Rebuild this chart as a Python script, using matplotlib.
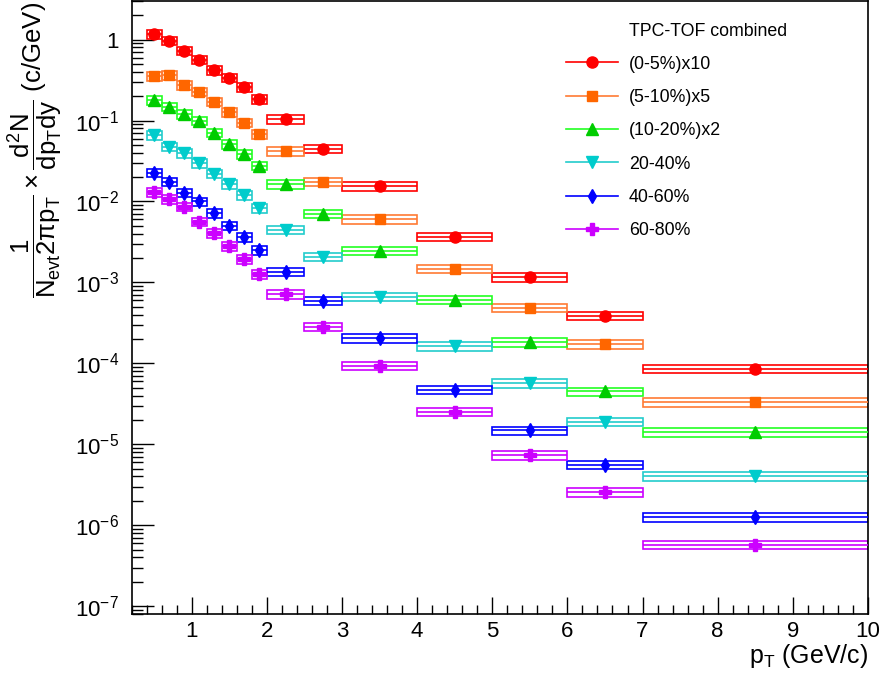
import math
import matplotlib
matplotlib.use("Agg")
import matplotlib.pyplot as plt
from matplotlib.lines import Line2D
from matplotlib.ticker import MultipleLocator, FixedLocator, FuncFormatter, NullFormatter

plt.rcParams['font.family'] = ['Liberation Sans', 'DejaVu Sans']
plt.rcParams['mathtext.fontset'] = 'custom'
plt.rcParams['mathtext.rm'] = 'Liberation Sans'
plt.rcParams['mathtext.it'] = 'Liberation Sans'
plt.rcParams['mathtext.sf'] = 'Liberation Sans'

# pT bin centres and half widths (GeV/c)
pt = [0.5, 0.7, 0.9, 1.1, 1.3, 1.5, 1.7, 1.9, 2.25, 2.75, 3.5, 4.5, 5.5, 6.5, 8.5]
pt_half = [0.1] * 8 + [0.25, 0.25, 0.5, 0.5, 0.5, 0.5, 1.5]

labels = ["(0-5%)x10", "(5-10%)x5", "(10-20%)x2", "20-40%", "40-60%", "60-80%"]

y_0_5 = [1.16, 0.97, 0.73, 0.56, 0.42, 0.34, 0.257, 0.184, 0.104, 0.0449, 0.0155,
         0.00368, 0.00116, 3.9e-4, 8.55e-5]
y_5_10 = [0.354, 0.361, 0.274, 0.227, 0.171, 0.126, 0.094, 0.0676, 0.042, 0.0176,
          0.006, 0.00147, 4.84e-4, 1.73e-4, 3.32e-5]
y_10_20 = [0.179, 0.148, 0.120, 0.0995, 0.0707, 0.0513, 0.0386, 0.0277, 0.0163,
           0.00701, 0.00245, 6.08e-4, 1.83e-4, 4.49e-5, 1.4e-5]
y_20_40 = [0.0662, 0.0475, 0.0394, 0.0296, 0.0219, 0.0163, 0.0120, 0.00824, 0.00445,
           0.00208, 6.68e-4, 1.63e-4, 5.7e-5, 1.91e-5, 4.0e-6]
y_40_60 = [0.0227, 0.0176, 0.0128, 0.0100, 0.0072, 0.0050, 0.00362, 0.0025, 0.00136,
           5.9e-4, 2.05e-4, 4.7e-5, 1.48e-5, 5.58e-6, 1.26e-6]
y_60_80 = [0.013, 0.01065, 0.00866, 0.0056, 0.00403, 0.0028, 0.00193, 0.00126, 7.15e-4,
           2.85e-4, 9.3e-5, 2.54e-5, 7.3e-6, 2.57e-6, 5.74e-7]

# relative systematic (box) and statistical errors
sys_rel = 0.12
stat_rel = 0.05

series = [y_0_5, y_5_10, y_10_20, y_20_40, y_40_60, y_60_80]
marker_colors = ['#ff0000', '#ff6600', '#00cc00', '#00cccc', '#0000ff', '#cc00ff']
line_colors = ['#ff0000', '#ff7a33', '#22ff22', '#22cccc', '#0000ff', '#cc00ff']
markers = ['o', 's', '^', 'v', 'd', 'P']
msizes = [8, 7.2, 8.5, 8.5, 7.5, 8.5]

fig = plt.figure(figsize=(8.86, 6.77), dpi=100)
ax = fig.add_axes([0.1486, 0.0931, 0.831, 0.9054])

for ys, mc, lc, m, ms in zip(series, marker_colors, line_colors, markers, msizes):
    lows = [v * (1 - sys_rel) for v in ys]
    heights = [v * 2 * sys_rel for v in ys]
    widths = [2 * h for h in pt_half]
    ax.bar(pt, heights, bottom=lows, width=widths, fill=False,
           edgecolor=lc, linewidth=1.2, zorder=2)
    ax.errorbar(pt, ys, xerr=pt_half, yerr=[v * stat_rel for v in ys],
                fmt='none', ecolor=lc, elinewidth=1.2, capsize=0, zorder=3)
    ax.plot(pt, ys, linestyle='none', marker=m, markersize=ms,
            color=mc, markeredgecolor=mc, zorder=4)

ax.set_xlim(0.2, 10)
ax.set_yscale('log')
ax.set_ylim(8e-8, 3)

ax.xaxis.set_major_locator(MultipleLocator(1))
ax.xaxis.set_minor_locator(MultipleLocator(0.2))
decades = list(range(-7, 1))
ax.yaxis.set_major_locator(FixedLocator([10.0 ** e for e in decades]))
minor = [k * 10.0 ** e for e in range(-8, 1) for k in range(2, 10)]
ax.yaxis.set_minor_locator(FixedLocator([v for v in minor if 8e-8 <= v <= 3]))
ax.yaxis.set_minor_formatter(NullFormatter())


def ylab(v, pos):
    e = int(round(math.log10(v)))
    if e == 0:
        return '1'
    return r'$\mathregular{10^{%d}}\hspace{0.3}$' % e


ax.yaxis.set_major_formatter(FuncFormatter(ylab))

ax.tick_params(axis='both', which='both', direction='in', top=False, right=False,
               labelsize=16, width=1)
ax.tick_params(axis='y', which='major', length=16, pad=9)
ax.tick_params(axis='y', which='minor', length=8)
ax.tick_params(axis='x', which='major', length=12, pad=5)
ax.tick_params(axis='x', which='minor', length=6.5)
for sp in ax.spines.values():
    sp.set_linewidth(1.2)

ax.set_xlabel(r'$\mathregular{p_{T}}$ (GeV/c)', fontsize=18, loc='right', labelpad=0)

fig.text(0.04, 0.997,
         r'$\mathregular{\dfrac{1}{N_{evt}2\pi p_{T}}\times\dfrac{d^{2}N}{dp_{T}dy}}$ (c/GeV)',
         rotation=90, ha='center', va='top', fontsize=18.5)

# legend
ax.text(0.6754, 0.951, 'TPC-TOF combined', transform=ax.transAxes,
        fontsize=12.8, ha='left', va='center')
handles = [Line2D([], [], color=lc, lw=1.2, marker=m, markersize=ms,
                  markerfacecolor=mc, markeredgecolor=mc)
           for mc, lc, m, ms in zip(marker_colors, line_colors, markers, msizes)]
ax.legend(handles, labels, loc='upper left', bbox_to_anchor=(0.59, 0.911),
          frameon=False, fontsize=12.8, borderpad=0, borderaxespad=0,
          handlelength=2.9, handletextpad=0.62, labelspacing=0.92)

fig.savefig('out.png', dpi=100)
